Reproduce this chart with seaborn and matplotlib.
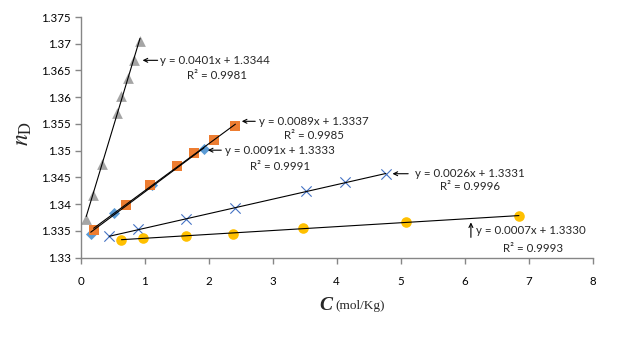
import numpy as np
import pandas as pd
import seaborn as sns
import matplotlib.pyplot as plt

# Data
tri_x = [0.09, 0.195, 0.33, 0.57, 0.64, 0.74, 0.84, 0.93]
tri_y = [1.3372, 1.3417, 1.3476, 1.3571, 1.3603, 1.3636, 1.3670, 1.3705]

sq_x = [0.205, 0.705, 1.09, 1.50, 1.78, 2.09, 2.42]
sq_y = [1.3352, 1.3398, 1.3436, 1.3472, 1.3495, 1.3520, 1.3546]

dia_x = [0.16, 0.53, 1.12, 1.93]
dia_y = [1.3345, 1.3383, 1.3435, 1.3504]

cross_x = [0.45, 0.905, 1.65, 2.42, 3.53, 4.13, 4.77]
cross_y = [1.3340, 1.3353, 1.3373, 1.3392, 1.3424, 1.3441, 1.3457]

circ_x = [0.64, 0.97, 1.65, 2.38, 3.48, 5.08, 6.85]
circ_y = [1.3334, 1.3336, 1.3341, 1.3345, 1.3355, 1.3367, 1.3378]

eq_labels = ["y = 0.0401x + 1.3344", "y = 0.0089x + 1.3337", "y = 0.0091x + 1.3333",
             "y = 0.0026x + 1.3331", "y = 0.0007x + 1.3330"]
r2_labels = ["R\u00b2 = 0.9981", "R\u00b2 = 0.9985", "R\u00b2 = 0.9991",
             "R\u00b2 = 0.9996", "R\u00b2 = 0.9993"]

x_ticks = np.arange(0, 9, 1)
y_ticks = [1.33, 1.335, 1.34, 1.345, 1.35, 1.355, 1.36, 1.365, 1.37, 1.375]

# --------------------------
# Style
# --------------------------
sns.set_style("white")
plt.rcParams['font.family'] = ['Lato', 'DejaVu Sans']
plt.rcParams['mathtext.fontset'] = 'stix'

series = [
    (dia_x, dia_y, 'D', '#5B9BD5', 32, 0),
    (sq_x, sq_y, 's', '#ED7D31', 60, 0),
    (tri_x, tri_y, '^', '#A5A5A5', 60, 0),
    (cross_x, cross_y, 'x', '#4472C4', 55, 0.8),
    (circ_x, circ_y, 'o', '#FFC000', 58, 0),
]

fig = plt.figure(figsize=(6.3, 3.38), dpi=100)
ax = fig.add_axes([80.5 / 630, 1 - 257.7 / 338, 512 / 630, 240.7 / 338])

for xs, ys, mk, col, size, lw in series:
    df = pd.DataFrame({'c': xs, 'n': ys})
    sns.scatterplot(data=df, x='c', y='n', marker=mk, color=col, s=size,
                    linewidth=lw, edgecolor=col if mk != 'x' else None, ax=ax, zorder=2)
    sns.regplot(data=df, x='c', y='n', scatter=False, ci=None, truncate=True,
                color='black', line_kws={'lw': 0.8, 'zorder': 3}, ax=ax)

ax.set_xlim(0, 8)
ax.set_ylim(1.33, 1.375)
ax.set_xticks(x_ticks)
ax.set_yticks(y_ticks)
ax.set_xticklabels([str(t) for t in x_ticks])
ax.set_yticklabels(['%g' % t for t in y_ticks])
ax.set_xlabel('')
ax.set_ylabel('')

# Axes look like Excel
sns.despine(ax=ax)
for sp in ['left', 'bottom']:
    ax.spines[sp].set_color('#868686')
    ax.spines[sp].set_linewidth(1.0)
ax.tick_params(axis='both', which='major', direction='out', length=4, width=1,
               color='#868686', labelsize=8.3, labelcolor='black', pad=3,
               left=True, bottom=True)
ax.tick_params(axis='x', pad=9)

# Trendline labels
fs = 8.3
arrow_kw = dict(arrowstyle='->', lw=0.8, color='black', shrinkA=0, shrinkB=0,
                mutation_scale=7)
# gray triangles
ax.annotate('', xy=(0.97, 1.3669), xytext=(1.205, 1.3669), arrowprops=arrow_kw)
ax.text(1.25, 1.3669, eq_labels[0], fontsize=fs, va='center', ha='left')
ax.text(2.13, 1.3640, r2_labels[0], fontsize=fs, va='center', ha='center')
# orange squares
ax.annotate('', xy=(2.52, 1.3555), xytext=(2.73, 1.3555), arrowprops=arrow_kw)
ax.text(2.79, 1.3555, eq_labels[1], fontsize=fs, va='center', ha='left')
ax.text(3.65, 1.3529, r2_labels[1], fontsize=fs, va='center', ha='center')
# blue diamonds
ax.annotate('', xy=(1.99, 1.3501), xytext=(2.2, 1.3501), arrowprops=arrow_kw)
ax.text(2.26, 1.3501, eq_labels[2], fontsize=fs, va='center', ha='left')
ax.text(3.12, 1.3471, r2_labels[2], fontsize=fs, va='center', ha='center')
# blue crosses
ax.annotate('', xy=(4.875, 1.3457), xytext=(5.12, 1.3457), arrowprops=arrow_kw)
ax.text(5.22, 1.3457, eq_labels[3], fontsize=fs, va='center', ha='left')
ax.text(6.08, 1.3433, r2_labels[3], fontsize=fs, va='center', ha='center')
# yellow circles
ax.annotate('', xy=(6.10, 1.3366), xytext=(6.10, 1.3338), arrowprops=arrow_kw)
ax.text(6.18, 1.3350, eq_labels[4], fontsize=fs, va='center', ha='left')
ax.text(7.07, 1.3317, r2_labels[4], fontsize=fs, va='center', ha='center')

# Axis titles
fig.text(24 / 630, 1 - 133 / 338, r'$\mathit{n}_{\mathrm{D}}$', fontsize=17,
         rotation=90, ha='center', va='center')
fig.text(332 / 630, 1 - 306 / 338, 'C', fontsize=14, style='italic', weight='bold',
         family=['Liberation Serif', 'DejaVu Serif'], ha='right', va='center')
fig.text(335 / 630, 1 - 306 / 338, '(mol/Kg)', fontsize=9.5, ha='left', va='center',
         family=['Liberation Serif', 'DejaVu Serif'])

plt.savefig('out.png', dpi=100)
plt.close()
